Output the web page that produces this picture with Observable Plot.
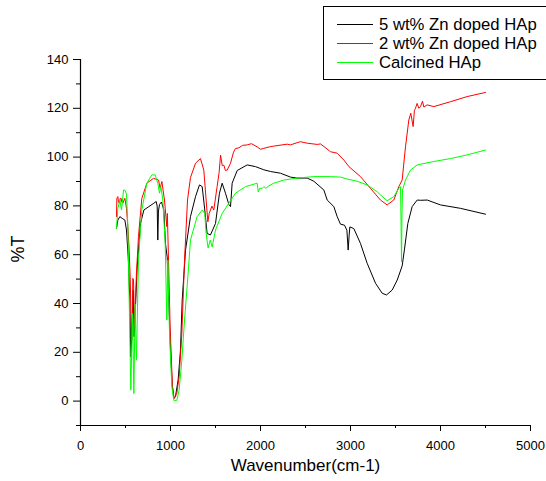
<!DOCTYPE html>
<html>
<head>
<meta charset="utf-8">
<script src="https://cdn.jsdelivr.net/npm/d3@7"></script>
<script src="https://cdn.jsdelivr.net/npm/@observablehq/plot@0.6"></script>
<style>
html, body { margin: 0; padding: 0; background: #fff; overflow: hidden; }
#wrap { position: relative; width: 546px; height: 481px; font-family: "Liberation Sans", Arial, sans-serif; }
#chart { position: absolute; left: 0; top: 0; }
#legendBox { position: absolute; left: 323px; top: 6px; width: 240px; height: 74px; border: 1px solid #000; box-sizing: border-box; background: #fff; }
.lg-line { position: absolute; left: 337px; width: 36px; height: 1px; }
.lg-text { position: absolute; left: 379px; font-size: 16.7px; line-height: 19px; color: #000; white-space: nowrap; }
#yTitle { position: absolute; left: 18px; top: 249px; font-size: 18px; line-height: 18px; color: #000; white-space: nowrap; transform: translate(-50%, -50%) rotate(-90deg); }
</style>
</head>
<body>
<div id="wrap">
  <div id="chart"></div>
  <div id="legendBox"></div>
  <div id="legendItems"></div>
  <div id="yTitle"></div>
</div>
<script>
// Series names and colours
const seriesNames = ["5 wt% Zn doped HAp", "2 wt% Zn doped HAp", "Calcined HAp"];
const seriesColors = ["#000000", "#ff0000", "#00ff00"];

// 5 wt% Zn doped HAp
const zn5Wave = [400,415,437,463,493,511,530,548,559,574,585,596,610,630,667,704,759,815,841,852,859,866,878,900,926,944,963,981,1000,1018,1037,1055,1085,1111,1130,1167,1222,1278,1322,1352,1381,1407,1444,1500,1544,1574,1611,1648,1667,1685,1741,1852,1944,2037,2111,2222,2333,2407,2519,2593,2704,2741,2815,2852,2889,2933,2960,2974,2985,2993,3037,3111,3185,3278,3352,3400,3463,3519,3574,3600,3637,3685,3741,3780,3852,4000,4222,4500];
const zn5T = [70.8,74.2,75.6,74.9,74.2,70.1,59.1,41.4,18.1,29,45.5,26.4,37.8,55,72.8,78.3,79.7,81.1,81.8,79.9,66,77.9,80.6,81.6,78.3,64.6,59.1,41.4,21,7.3,1.1,1.8,8.7,21,41.4,61.9,75.6,83.8,88.6,87.9,78.3,68.7,68.1,72.8,85.2,89.3,85.2,80.6,79.7,89.3,94.5,96.8,96.1,94.8,94.1,93.4,91.8,91.4,91.4,90.1,86.5,82.4,79.7,75.6,72.5,72.1,70,61.9,68,71.4,70.7,64.6,56.5,48.3,44.2,43.5,45.5,49.6,55.4,62.3,72.8,79.7,82.4,82.3,82.4,80.4,79,76.6];

// 2 wt% Zn doped HAp
const zn2Wave = [400,404,415,422,433,441,452,459,470,493,511,526,540,552,563,570,578,581,589,600,610,622,644,681,737,811,867,885,904,933,959,965,978,996,1022,1041,1070,1096,1126,1156,1189,1222,1278,1333,1370,1396,1415,1430,1444,1460,1481,1518,1540,1556,1575,1593,1610,1630,1667,1700,1722,1760,1800,1852,1900,1963,2000,2037,2111,2148,2296,2333,2407,2444,2519,2630,2667,2778,2852,2926,2982,3111,3222,3333,3407,3481,3537,3574,3611,3648,3670,3696,3710,3722,3740,3760,3778,3800,3815,3852,3926,4111,4296,4500];
const zn2T = [75.6,83.1,83.8,81.6,81.1,83.1,83.1,81.6,81.1,83.1,79,71.5,62.3,50.9,32.9,25,37.8,50.3,49.6,30.4,40.7,52.5,67.4,83,89.3,91.3,90.6,87.2,90,82.4,71.5,76.9,57.8,30.5,5.8,1.1,3.2,10,27.7,57.8,82.4,91.6,97.5,99.4,94.7,82.4,73.5,76.9,78.3,79.9,78.3,87.9,93.6,100.8,96.5,96.7,94.5,94.7,97.5,102,103.5,103.8,104.8,105,105.5,104.2,103.2,103.6,104.3,104.5,105.3,105,105.9,106.3,105.7,105.2,105.4,102.2,101.6,98.8,96.1,92,87.2,82.4,80.4,82.4,87.9,90.6,104.2,115.2,118,112.5,119,120,122,120,120.7,122.9,120.5,121.4,120.7,122.7,124.8,126.5];

// Calcined HAp
const calWave = [400,415,437,456,478,493,511,526,541,559,578,593,607,622,644,681,737,793,830,859,878,893,915,941,959,970,989,1015,1037,1070,1096,1126,1156,1193,1222,1296,1352,1381,1396,1418,1441,1463,1500,1574,1648,1722,1833,1963,1975,1990,2019,2037,2060,2092,2148,2259,2407,2593,2778,2889,2963,3074,3185,3296,3333,3407,3481,3537,3556,3562,3567,3572,3578,3611,3667,3741,3926,4111,4296,4500];
const calT = [70.8,79,82.4,78.3,86.5,86.5,84.8,72,41.4,4.5,35.9,3.1,39.8,16.8,57.8,78.3,89.3,92.7,92.7,89.3,85.2,87.9,82.4,64.6,33.2,57.8,27.7,5.8,0.3,0.3,4.4,16.8,33.2,50.9,66,75.6,78.3,76.9,68.7,62.7,66,63.2,70.1,76.9,81.1,85.2,87.9,89.3,85.7,87.2,87.2,87.9,87.2,88.2,89.3,90.6,91.4,92,92,91.8,91,90.1,88.6,85.8,84.5,82.1,83.8,87.2,87.9,72,57.1,77,86.5,90.6,94.7,96.8,98.2,99.4,100.9,102.9];

// Axis ticks
const xMajorTicks = [0,1000,2000,3000,4000,5000];
const xMinorTicks = [500,1500,2500,3500,4500];
const yMajorTicks = [0,20,40,60,80,100,120,140];
const yMinorTicks = [-10,10,30,50,70,90,110,130];
const xTitle = "Wavenumber(cm-1)";
const yTitle = "%T";

const toRows = (w, t) => w.map((x, i) => ({x, y: t[i]}));
const series = [toRows(zn5Wave, zn5T), toRows(zn2Wave, zn2T), toRows(calWave, calT)];

const chart = Plot.plot({
  width: 546,
  height: 481,
  marginLeft: 80,
  marginRight: 16,
  marginTop: 59,
  marginBottom: 56,
  x: {domain: [0, 5000]},
  y: {domain: [-10, 140]},
  style: {fontFamily: "'Liberation Sans', Arial, sans-serif", fontSize: "13px", color: "#000", background: "transparent"},
  marks: [
    Plot.axisX({ticks: xMajorTicks, tickSize: 6, tickPadding: 9, tickFormat: d => String(d), label: null, fontSize: 13}),
    Plot.axisX({ticks: xMinorTicks, tickSize: 3, text: null, label: null}),
    Plot.axisY({ticks: yMajorTicks, tickSize: 7, tickPadding: 5, tickFormat: d => String(d), label: null, fontSize: 13}),
    Plot.axisY({ticks: yMinorTicks, tickSize: 4, text: null, label: null}),
    Plot.ruleX([0], {stroke: "#000", strokeWidth: 1.2}),
    Plot.ruleY([-10], {stroke: "#000", strokeWidth: 1.2}),
    ...series.map((rows, i) => Plot.line(rows, {x: "x", y: "y", stroke: seriesColors[i], strokeWidth: 1})),
    Plot.text([xTitle], {frameAnchor: "bottom", dy: 45, fontSize: 17, fill: "#000"})
  ]
});
document.getElementById("chart").appendChild(chart);
document.getElementById("yTitle").textContent = yTitle;

// Legend
const items = document.getElementById("legendItems");
const rowCenters = [24, 43, 62];
seriesNames.forEach((name, i) => {
  const ln = document.createElement("div");
  ln.className = "lg-line";
  ln.style.top = (rowCenters[i] - 0.5) + "px";
  ln.style.background = seriesColors[i];
  items.appendChild(ln);
  const tx = document.createElement("div");
  tx.className = "lg-text";
  tx.style.top = (rowCenters[i] - 9.5) + "px";
  tx.textContent = name;
  items.appendChild(tx);
});
</script>
</body>
</html>
